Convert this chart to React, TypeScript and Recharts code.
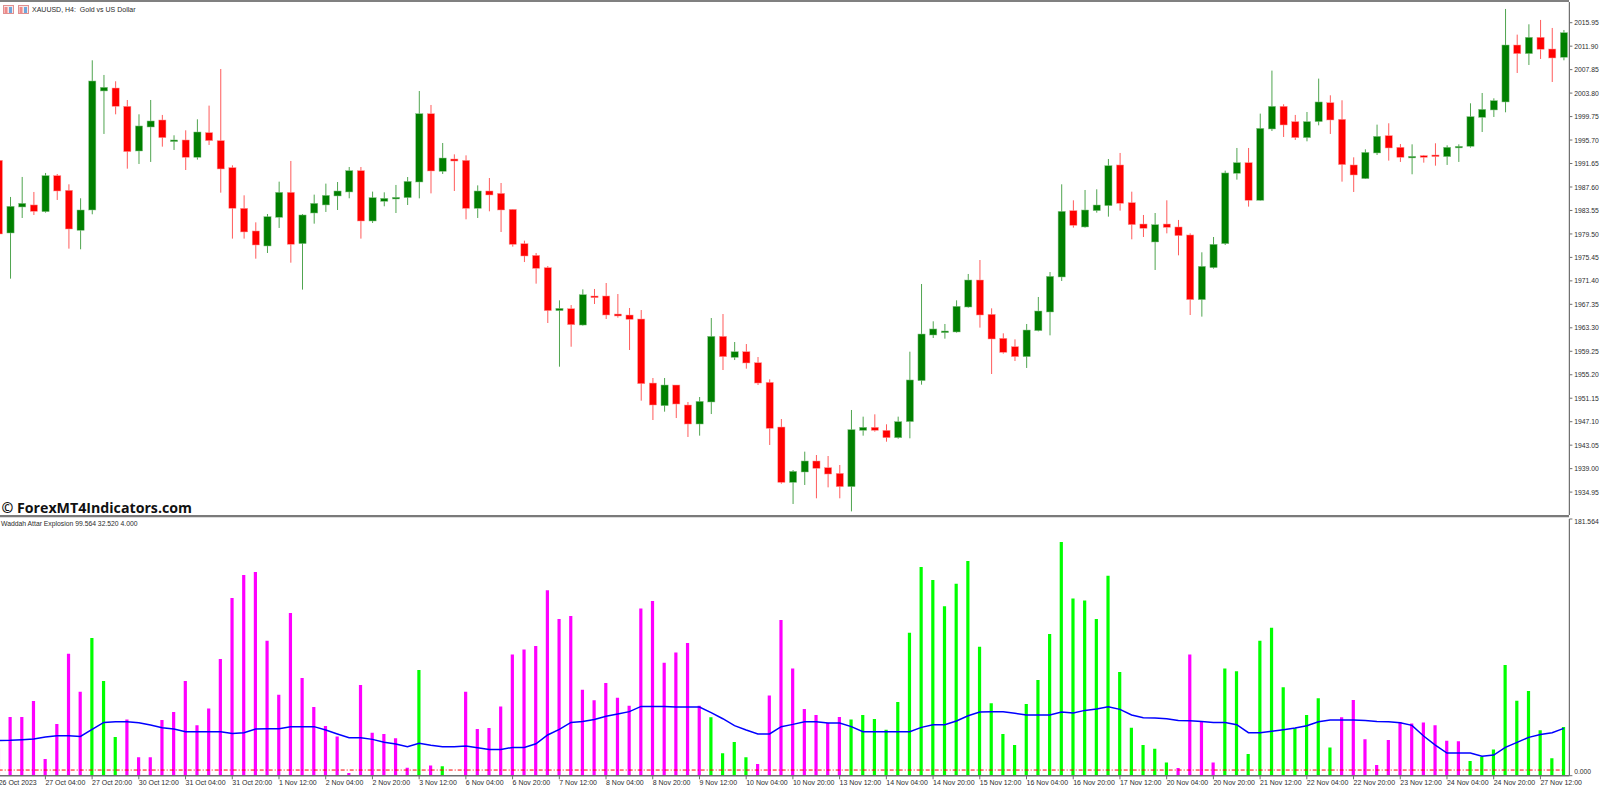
import React from 'react';
import { ComposedChart, Bar, Line, XAxis, YAxis, Cell } from 'recharts';

const opens = [
  1992.20, 1979.66, 1984.15, 1984.50, 1983.34, 1989.56, 1987.03, 1980.12, 1983.63, 2004.17,
  2004.68, 2001.52, 1993.81, 1997.95, 1999.16, 1995.48, 1995.71, 1992.72, 1996.98, 1995.60,
  1990.94, 1983.92, 1980.01, 1977.42, 1982.37, 1986.68, 1977.82, 1983.11, 1984.50, 1986.05,
  1986.74, 1990.42, 1981.73, 1985.13, 1985.53, 1985.76, 1988.46, 2000.25, 1990.30, 1992.43,
  1992.20, 1983.91, 1986.91, 1986.50, 1983.74, 1977.82, 1975.80, 1973.68, 1966.26, 1966.60,
  1963.78, 1968.79, 1968.79, 1965.68, 1965.51, 1964.82, 1953.77, 1949.86, 1953.43, 1949.98,
  1946.70, 1950.50, 1961.83, 1958.20, 1959.18, 1957.28, 1953.89, 1946.18, 1936.63, 1938.42,
  1940.32, 1939.17, 1938.19, 1935.89, 1945.61, 1946.13, 1945.61, 1944.34, 1947.11, 1954.18,
  1962.06, 1962.46, 1962.58, 1966.89, 1971.55, 1965.63, 1961.49, 1960.05, 1958.32, 1962.81,
  1966.03, 1972.07, 1983.52, 1980.70, 1983.52, 1984.38, 1991.40, 1984.90, 1981.21, 1978.11,
  1981.21, 1980.70, 1979.32, 1968.16, 1973.68, 1977.82, 1989.96, 1991.80, 1985.30, 1997.61,
  2001.52, 1998.88, 1996.11, 1998.88, 2002.15, 1999.28, 1991.40, 1989.04, 1993.47, 1996.46,
  1994.45, 1992.66, 1993.01, 1993.12, 1992.84, 1994.39, 1994.62, 1999.62, 2000.89, 2002.27,
  2012.10, 2010.61, 2013.43, 2011.41, 2009.98,
];

const closes = [
  1979.49, 1984.27, 1984.78, 1983.40, 1989.56, 1986.91, 1980.35, 1983.63, 2005.89, 2004.80,
  2001.52, 1993.70, 1998.13, 1998.99, 1996.11, 1995.71, 1992.72, 1997.09, 1995.60, 1990.71,
  1983.92, 1979.84, 1977.59, 1982.48, 1986.68, 1977.71, 1982.77, 1984.78, 1986.16, 1986.91,
  1990.42, 1981.73, 1985.76, 1985.65, 1985.82, 1988.57, 2000.25, 1990.36, 1992.60, 1992.08,
  1983.91, 1986.91, 1986.22, 1983.63, 1977.70, 1975.69, 1973.56, 1966.26, 1966.66, 1963.84,
  1969.02, 1968.50, 1965.51, 1965.34, 1964.76, 1953.66, 1949.98, 1953.43, 1950.15, 1946.70,
  1950.61, 1961.83, 1958.32, 1959.18, 1957.23, 1953.77, 1945.95, 1936.63, 1938.53, 1940.32,
  1939.05, 1938.07, 1935.89, 1945.73, 1946.13, 1945.61, 1944.34, 1947.11, 1954.30, 1962.23,
  1963.10, 1962.75, 1967.01, 1971.55, 1965.51, 1961.37, 1959.07, 1958.32, 1962.92, 1966.20,
  1972.18, 1983.40, 1980.98, 1983.63, 1984.49, 1991.28, 1984.78, 1981.10, 1980.47, 1981.10,
  1980.64, 1979.20, 1968.16, 1973.91, 1977.71, 1990.02, 1991.80, 1985.30, 1997.72, 2001.52,
  1998.30, 1996.11, 1998.88, 2002.27, 1999.16, 1991.46, 1989.67, 1993.58, 1996.34, 1994.33,
  1992.72, 1992.89, 1992.72, 1992.84, 1994.45, 1994.62, 1999.74, 2001.00, 2002.50, 2012.10,
  2010.61, 2013.43, 2011.36, 2009.86, 2014.23,
];

const highs = [
  1992.20, 1985.88, 1989.33, 1986.74, 1990.02, 1989.84, 1988.06, 1985.65, 2009.46, 2006.93,
  2005.84, 2002.61, 2000.14, 2002.61, 2000.03, 1996.52, 1997.38, 1999.28, 2001.64, 2007.96,
  1991.34, 1986.16, 1981.50, 1982.94, 1988.52, 1992.09, 1982.94, 1986.28, 1988.18, 1988.46,
  1991.05, 1991.05, 1986.80, 1986.68, 1987.95, 1989.32, 2004.16, 2001.75, 1995.19, 1993.23,
  1993.06, 1987.88, 1989.15, 1988.29, 1983.74, 1978.34, 1976.21, 1973.96, 1968.04, 1967.23,
  1969.94, 1970.00, 1971.03, 1969.13, 1966.72, 1966.37, 1954.64, 1954.64, 1953.43, 1950.50,
  1951.36, 1964.99, 1965.68, 1960.85, 1960.50, 1958.26, 1954.41, 1947.56, 1938.76, 1941.93,
  1941.35, 1941.18, 1939.63, 1949.12, 1947.97, 1948.37, 1946.65, 1947.97, 1959.18, 1970.86,
  1964.42, 1963.96, 1968.04, 1972.59, 1975.00, 1966.66, 1962.35, 1961.31, 1963.96, 1968.62,
  1972.93, 1988.06, 1985.30, 1987.08, 1987.20, 1992.43, 1993.47, 1986.79, 1982.77, 1983.11,
  1985.30, 1981.91, 1979.60, 1976.33, 1978.97, 1990.42, 1994.33, 1994.33, 2000.26, 2007.68,
  2001.87, 2000.03, 2000.54, 2006.30, 2003.42, 2002.56, 1992.72, 1994.10, 1998.36, 1998.59,
  1995.02, 1994.96, 1993.12, 1995.14, 1994.79, 1994.96, 2002.04, 2003.82, 2002.90, 2018.32,
  2013.89, 2015.67, 2016.42, 2015.04, 2014.69,
];

const lows = [
  1979.49, 1971.78, 1982.25, 1982.77, 1983.17, 1985.36, 1976.96, 1976.85, 1982.89, 1996.75,
  2000.14, 1990.76, 1991.57, 1991.92, 1994.56, 1993.99, 1990.53, 1992.32, 1994.85, 1986.62,
  1978.69, 1978.69, 1975.23, 1976.21, 1980.53, 1974.54, 1969.89, 1981.27, 1983.29, 1983.63,
  1985.65, 1978.69, 1981.39, 1984.27, 1983.11, 1984.49, 1985.64, 1986.50, 1989.84, 1986.91,
  1982.02, 1982.25, 1983.40, 1979.83, 1977.30, 1974.65, 1970.92, 1964.13, 1956.59, 1960.04,
  1963.67, 1967.41, 1964.82, 1965.05, 1959.47, 1950.73, 1947.39, 1948.83, 1947.73, 1944.46,
  1944.69, 1948.42, 1956.02, 1957.74, 1956.25, 1953.43, 1943.08, 1936.40, 1932.90, 1936.18,
  1933.88, 1935.77, 1933.88, 1931.63, 1944.69, 1945.38, 1943.65, 1944.17, 1944.23, 1953.49,
  1961.54, 1961.43, 1962.46, 1966.78, 1963.33, 1955.33, 1958.84, 1957.57, 1956.37, 1962.69,
  1962.00, 1971.38, 1980.58, 1980.58, 1983.17, 1982.48, 1983.52, 1978.57, 1978.97, 1973.28,
  1979.60, 1975.81, 1965.51, 1965.23, 1973.51, 1977.59, 1988.87, 1984.21, 1985.24, 1997.26,
  1996.23, 1995.71, 1995.48, 1998.24, 1996.75, 1988.52, 1986.74, 1988.98, 1993.12, 1992.15,
  1991.92, 1989.79, 1991.80, 1991.28, 1991.40, 1991.92, 1994.39, 1997.09, 1999.68, 2000.49,
  2007.27, 2008.65, 2009.69, 2005.72, 2009.46,
];

const explosion = [
  20.0, 41.5, 41.5, 52.8, 11.8, 36.5, 86.3, 59.4, 97.4, 67.0,
  27.3, 39.8, 13.0, 13.0, 39.4, 45.0, 67.0, 35.6, 47.6, 82.5,
  125.6, 141.9, 144.0, 95.5, 57.3, 115.0, 69.1, 48.6, 35.1, 27.8,
  1.9, 64.1, 30.4, 29.5, 26.4, 5.7, 74.7, 7.3, 6.6, 0.5,
  59.4, 33.0, 33.7, 49.0, 85.8, 89.3, 91.7, 131.1, 110.8, 112.9,
  60.8, 53.3, 65.5, 55.2, 49.5, 118.3, 123.5, 79.9, 87.2, 93.8,
  49.5, 41.3, 15.8, 23.8, 13.0, 8.3, 56.8, 110.1, 75.9, 47.1,
  42.9, 37.2, 41.5, 39.8, 42.9, 40.1, 32.5, 52.1, 101.1, 147.6,
  138.4, 119.8, 135.8, 151.8, 91.2, 51.2, 29.5, 21.7, 50.7, 67.7,
  100.2, 165.3, 125.4, 124.0, 110.8, 141.4, 73.3, 33.9, 21.7, 19.1,
  9.4, 5.4, 85.8, 38.2, 9.4, 75.9, 73.8, 15.3, 95.5, 104.7,
  62.5, 33.5, 42.9, 54.7, 20.0, 41.3, 53.5, 25.7, 7.5, 25.2,
  38.0, 37.0, 37.7, 35.6, 24.8, 24.3, 10.4, 13.4, 18.6, 78.3,
  53.0, 59.9, 32.1, 12.3, 34.4,
];

const signal = [
  24.8, 25.0, 25.5, 25.9, 27.3, 28.3, 28.3, 27.8, 32.8, 37.7,
  38.2, 38.2, 37.5, 35.8, 33.9, 33.0, 31.1, 31.1, 31.1, 31.1,
  29.9, 30.4, 33.0, 33.2, 33.2, 34.7, 34.7, 34.7, 32.3, 29.5,
  26.9, 26.9, 25.7, 23.6, 22.4, 20.5, 22.9, 21.5, 20.5, 20.5,
  21.0, 19.8, 18.6, 18.6, 20.0, 20.0, 22.6, 28.8, 32.8, 37.7,
  38.4, 39.8, 42.0, 43.6, 45.3, 49.0, 49.0, 49.0, 48.6, 48.6,
  48.6, 44.6, 40.3, 35.4, 32.3, 29.5, 29.5, 34.7, 36.3, 38.2,
  38.2, 37.2, 37.2, 34.7, 31.1, 31.1, 31.1, 31.1, 31.1, 34.2,
  36.1, 36.1, 38.7, 42.4, 45.0, 45.3, 45.3, 44.1, 42.9, 42.9,
  42.9, 45.0, 44.3, 46.2, 47.1, 48.8, 46.9, 42.9, 41.0, 40.8,
  40.3, 39.1, 38.9, 38.4, 37.7, 37.7, 36.1, 30.4, 30.4, 31.4,
  32.5, 33.7, 35.4, 38.2, 39.4, 39.4, 39.4, 39.1, 38.4, 38.2,
  37.5, 35.6, 28.1, 21.7, 16.0, 16.0, 16.0, 13.7, 14.6, 20.0,
  23.6, 27.1, 29.2, 30.4, 33.5,
];

// bars drawn green, everything else is magenta
const greenBars = [
  8, 9, 10, 36, 38, 39, 61, 62, 63, 64,
  73, 74, 75, 76, 77, 78, 79, 80, 81, 82, 83, 84, 85, 86, 87, 88, 89, 90,
  91, 92, 93, 94, 95, 96, 97, 98, 99, 100,
  105, 106, 107, 108, 109, 110, 111, 112, 113, 114,
  126, 127, 128, 129, 130, 131, 132, 133, 134,
];

const deadZone = 4;

const priceTicks = [
  2015.95, 2011.9, 2007.85, 2003.8, 1999.75, 1995.7, 1991.65, 1987.6, 1983.55, 1979.5, 1975.45,
  1971.4, 1967.35, 1963.3, 1959.25, 1955.2, 1951.15, 1947.1, 1943.05, 1939.0, 1934.95,
];

const explosionTicks = [181.564, 0];

const timeLabels = [
  '26 Oct 2023', '27 Oct 04:00', '27 Oct 20:00', '30 Oct 12:00', '31 Oct 04:00', '31 Oct 20:00',
  '1 Nov 12:00', '2 Nov 04:00', '2 Nov 20:00', '3 Nov 12:00', '6 Nov 04:00', '6 Nov 20:00',
  '7 Nov 12:00', '8 Nov 04:00', '8 Nov 20:00', '9 Nov 12:00', '10 Nov 04:00', '10 Nov 20:00',
  '13 Nov 12:00', '14 Nov 04:00', '14 Nov 20:00', '15 Nov 12:00', '16 Nov 04:00', '16 Nov 20:00',
  '17 Nov 12:00', '20 Nov 04:00', '20 Nov 20:00', '21 Nov 12:00', '22 Nov 04:00', '22 Nov 20:00',
  '23 Nov 12:00', '24 Nov 04:00', '24 Nov 20:00', '27 Nov 12:00',
];

const candles = opens.map((open, i) => ({
  idx: i,
  open,
  close: closes[i],
  high: highs[i],
  low: lows[i],
  range: [lows[i], highs[i]],
}));

const histogram = explosion.map((value, i) => ({
  idx: i,
  value,
  signal: signal[i],
  level: deadZone,
}));

const FONT = '"Liberation Sans", Arial, sans-serif';
const AXIS_GREY = '#6e6e6e';
const TEXT = '#2b2b2b';
const X_DOMAIN = [-1, 134.48];
const xTicks = timeLabels.map((_, i) => i * 4);

const Candle = (props: any) => {
  const { x, y, width, height, payload } = props;
  const { open, close, high, low } = payload;
  const yOf = (p: number) => (high === low ? y : y + ((high - p) / (high - low)) * height);
  const cx = x + width / 2;
  const up = close >= open;
  const top = yOf(Math.max(open, close));
  const bottom = yOf(Math.min(open, close));
  return (
    <g>
      <line x1={cx} x2={cx} y1={y} y2={y + height} stroke={up ? '#4fa54f' : '#ff5a5a'} strokeWidth={1} />
      <rect
        x={cx - 3.6}
        y={top}
        width={7.2}
        height={Math.max(bottom - top, 1.6)}
        fill={up ? '#008000' : '#ff0000'}
        stroke={up ? '#8cc48c' : '#ff9a9a'}
        strokeWidth={0.5}
      />
    </g>
  );
};

const PriceTick = ({ x, y, payload }: any) => (
  <g>
    <line x1={x} x2={x + 3} y1={y} y2={y} stroke={AXIS_GREY} />
    <text x={x + 4.8} y={y + 2.6} fontSize={6.8} fontFamily={FONT} fill={TEXT}>
      {payload.value.toFixed(2)}
    </text>
  </g>
);

const ExplosionTick = ({ x, y, payload }: any) => (
  <g>
    <line x1={x} x2={x + 3} y1={y} y2={y} stroke={AXIS_GREY} />
    <text x={x + 4.8} y={y + (payload.value === 0 ? -1.4 : 4.6)} fontSize={6.8} fontFamily={FONT} fill={TEXT}>
      {payload.value.toFixed(3)}
    </text>
  </g>
);

const TimeTick = ({ x, y, payload }: any) => (
  <g>
    <line x1={x} x2={x} y1={y} y2={y + 3.6} stroke={AXIS_GREY} />
    <text x={x} y={y + 9.6} fontSize={7} fontFamily={FONT} fill={TEXT}>
      {timeLabels[payload.value / 4]}
    </text>
  </g>
);

const ChartIcon = ({ x, tint }: { x: number; tint: string }) => (
  <svg width={11} height={9} style={{ position: 'absolute', left: x, top: 5 }}>
    <rect x={0.5} y={0.5} width={10} height={8} fill="#f8e8e8" stroke="#e09090" />
    <rect x={1.5} y={2} width={3} height={6} fill={tint} />
    <rect x={6} y={2} width={3} height={6} fill="#6fa7dc" />
  </svg>
);

const label: React.CSSProperties = {
  position: 'absolute',
  fontFamily: FONT,
  color: TEXT,
  whiteSpace: 'pre',
  lineHeight: 1,
};

const App = () => {
  const greenSet = new Set(greenBars);
  return (
    <div style={{ position: 'fixed', left: 0, top: 0, width: 1600, height: 788, overflow: 'hidden', background: '#fff' }}>
      <div style={{ position: 'absolute', left: 0, top: 0, width: 1569, height: 1.6, background: '#808080' }} />

      <div style={{ position: 'absolute', left: -13.08, top: 0 }}>
        <ComposedChart width={1613.08} height={517} data={candles} margin={{ top: 2, right: 0, bottom: 0, left: 0 }}>
          <XAxis
            dataKey="idx"
            type="number"
            domain={X_DOMAIN}
            allowDataOverflow
            tick={false}
            tickLine={false}
            height={2}
            axisLine={false}
          />
          <YAxis
            orientation="right"
            width={30.7}
            domain={[1931.0, 2019.52]}
            allowDataOverflow
            ticks={priceTicks}
            interval={0}
            tick={<PriceTick />}
            tickSize={0}
            tickMargin={0}
            tickLine={false}
            axisLine={{ stroke: AXIS_GREY, strokeWidth: 1.2 }}
          />
          <Bar dataKey="range" barSize={8} shape={<Candle />} isAnimationActive={false} />
        </ComposedChart>
      </div>
      <div style={{ position: 'absolute', left: 0, top: 515.2, width: 1569, height: 1.8, background: '#7a7a7a' }} />
      <div style={{ position: 'absolute', left: 0, top: 517, width: 1569, height: 1, background: '#dcdcdc' }} />

      <div style={{ position: 'absolute', left: -13.08, top: 517 }}>
        <ComposedChart width={1613.08} height={271} data={histogram} margin={{ top: 2, right: 0, bottom: 0, left: 0 }}>
          <XAxis
            dataKey="idx"
            type="number"
            domain={X_DOMAIN}
            allowDataOverflow
            ticks={xTicks}
            interval={0}
            tick={<TimeTick />}
            tickSize={0}
            tickMargin={0}
            tickLine={false}
            height={12.3}
            axisLine={{ stroke: AXIS_GREY, strokeWidth: 1.4 }}
          />
          <YAxis
            orientation="right"
            width={30.7}
            domain={[0, 181.564]}
            allowDataOverflow
            ticks={explosionTicks}
            interval={0}
            tick={<ExplosionTick />}
            tickSize={0}
            tickMargin={0}
            tickLine={false}
            axisLine={{ stroke: AXIS_GREY, strokeWidth: 1.2 }}
          />
          <Bar dataKey="value" barSize={3.2} isAnimationActive={false}>
            {histogram.map((d) => (
              <Cell key={d.idx} fill={greenSet.has(d.idx) ? '#00ff00' : '#ff00ff'} />
            ))}
          </Bar>
          <Line dataKey="level" stroke="#ff0000" strokeWidth={1} strokeDasharray="4 2 1 2" dot={false} type="linear" isAnimationActive={false} />
          <Line dataKey="signal" stroke="#0000ff" strokeWidth={1.5} dot={false} type="linear" isAnimationActive={false} />
        </ComposedChart>
      </div>

      <ChartIcon x={2.5} tint="#f08a8a" />
      <ChartIcon x={17.5} tint="#f08a8a" />
      <div style={{ ...label, left: 32, top: 5.5, fontSize: 7 }}>XAUUSD, H4:  Gold vs US Dollar</div>
      <div style={{ ...label, left: 1, top: 521, fontSize: 6.8 }}>Waddah Attar Explosion 99.564 32.520 4.000</div>
      <div style={{ ...label, left: 1.5, top: 500.5, fontSize: 14.2, fontWeight: 700, color: '#111', fontFamily: '"Open Sans", sans-serif' }}>
        © ForexMT4Indicators.com
      </div>
    </div>
  );
};

export default App;
